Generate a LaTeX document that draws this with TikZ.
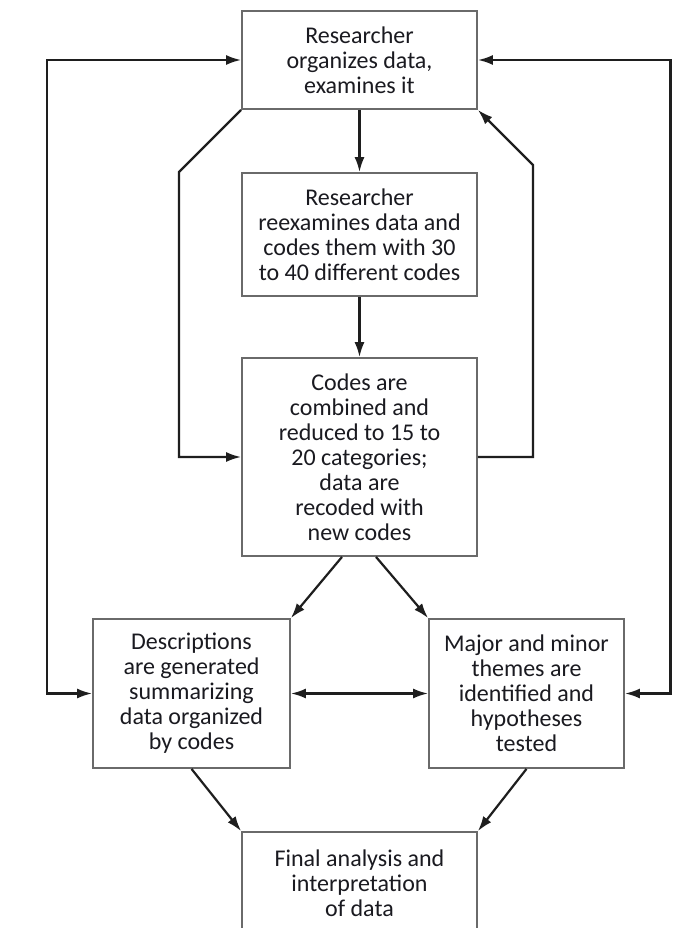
\documentclass[tikz,border=0pt]{standalone}
\usepackage{fontspec}
\setmainfont{Carlito}
\usetikzlibrary{arrows.meta}

\definecolor{boxgray}{HTML}{6A6A6A}
\definecolor{linegray}{HTML}{1E1E1E}
\definecolor{textgray}{HTML}{1A1A20}

\begin{document}
\begin{tikzpicture}[x=1pt, y=-1pt,
  box/.style={draw=boxgray, line width=1.8pt, align=center, inner sep=0pt,
    text=textgray, font=\fontsize{24}{25}\selectfont},
  conn/.style={draw=linegray, line width=2.2pt},
  arr/.style={conn, -{Latex[length=15pt, width=10pt]}},
  dbl/.style={conn, {Latex[length=15pt, width=10pt]}-{Latex[length=15pt, width=10pt]}}]

  \useasboundingbox (0,0) rectangle (691,928);
  \clip (0,0) rectangle (691,928);
  \fill[white] (0,0) rectangle (691,928);

  % process boxes
  \node[box, minimum width=235pt, minimum height=98pt]  (A) at (359.5,60)
    {Researcher\\organizes data,\\examines it};
  \node[box, minimum width=235pt, minimum height=123pt] (B) at (359.5,234.5)
    {Researcher\\reexamines data and\\codes them with 30\\to 40 different codes};
  \node[box, minimum width=235pt, minimum height=198pt] (C) at (359.5,457)
    {Codes are\\combined and\\reduced to 15 to\\20 categories;\\data are\\recoded with\\new codes};
  \node[box, minimum width=197pt, minimum height=149pt] (D) at (191.5,693.5)
    {Descriptions\\are generated\\summarizing\\data organized\\by codes};
  \node[box, minimum width=195pt, minimum height=149pt] (E) at (526.5,693.5)
    {Major and minor\\themes are\\identified and\\hypotheses\\tested};
  \node[box, minimum width=235pt, minimum height=102pt] (F) at (359.5,883)
    {Final analysis and\\interpretation\\of data};

  % main flow
  \draw[arr] (A.south) -- (B.north);
  \draw[arr] (B.south) -- (C.north);
  \draw[arr] ([xshift=-17.5pt]C.south) -- (D.north east);
  \draw[arr] ([xshift=16.5pt]C.south) -- (E.north west);
  \draw[dbl] (D.east) -- (E.west);
  \draw[arr] (D.south) -- (F.north west);
  \draw[arr] (E.south) -- (F.north east);

  % inner loops
  \draw[arr] (A.south west) -- (179,172) |- (C.west);
  \draw[arr] (C.east) -| (533,165) -- (A.south east);

  % outer loops
  \draw[dbl] (A.west) -| (47,693.5) -- (D.west);
  \draw[dbl] (A.east) -| (670.5,693.5) -- (E.east);
\end{tikzpicture}
\end{document}
